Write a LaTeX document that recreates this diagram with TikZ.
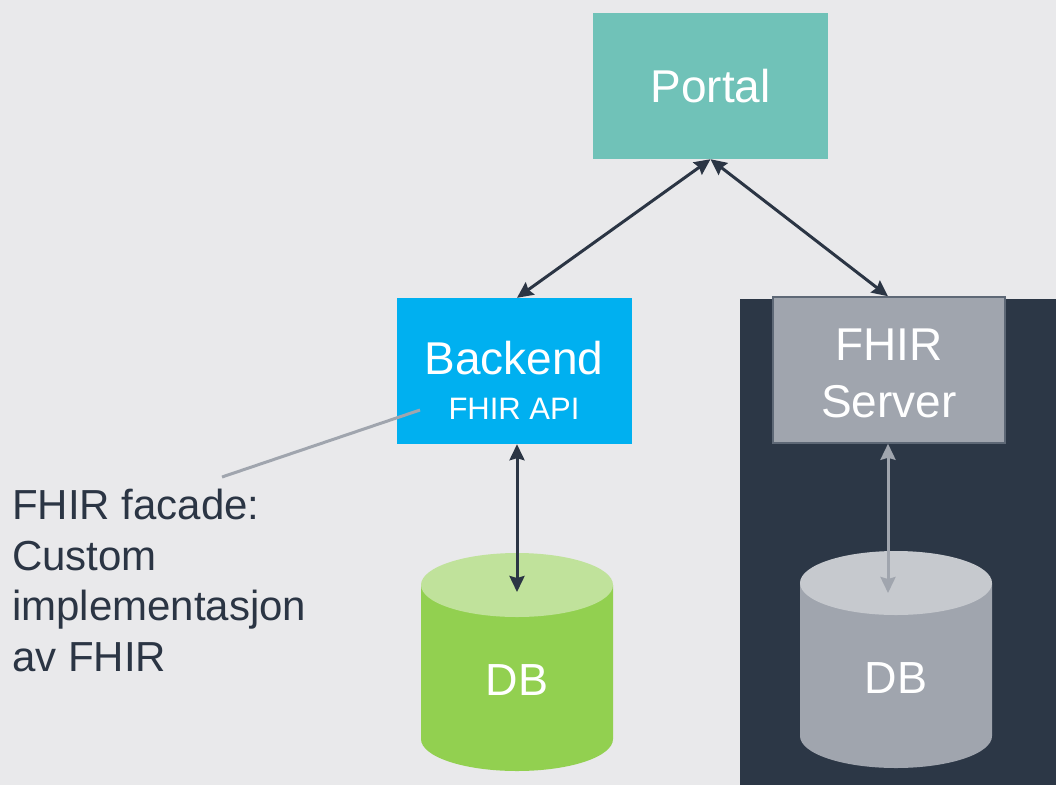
\documentclass[tikz,border=0pt]{standalone}
\usepackage{fontspec}
\setmainfont{Liberation Sans}
\usetikzlibrary{arrows.meta}

\definecolor{bgc}{HTML}{E9E9EB}
\definecolor{panelc}{HTML}{2C3746}
\definecolor{portalc}{HTML}{70C2B8}
\definecolor{backendc}{HTML}{00B0F0}
\definecolor{serverc}{HTML}{A0A5AE}
\definecolor{serveredge}{HTML}{5E6876}
\definecolor{greenbody}{HTML}{92D050}
\definecolor{greentop}{HTML}{C0E29B}
\definecolor{graybody}{HTML}{A0A5AE}
\definecolor{graytop}{HTML}{C6C9CE}
\definecolor{inkc}{HTML}{2B3544}

\tikzset{
  box/.style={rectangle, inner sep=0pt, text=white, align=center,
    font=\fontsize{46}{57}\selectfont},
  link/.style={draw=inkc, line width=3pt,
    {Stealth[length=16pt,width=15pt,inset=2pt]}-{Stealth[length=16pt,width=15pt,inset=2pt]}},
  glink/.style={draw=serverc, line width=3pt,
    {Stealth[length=16pt,width=15pt,inset=2pt]}-{Stealth[length=16pt,width=15pt,inset=2pt]}},
  dblabel/.style={text=white, font=\fontsize{45}{54}\selectfont, inner sep=0pt},
}

\begin{document}
\begin{tikzpicture}[x=1pt,y=-1pt]
  % canvas and dark hosting area
  \fill[bgc] (0,0) rectangle (1056,785);
  \useasboundingbox (0,0) rectangle (1056,785);
  \fill[panelc] (740,299) rectangle (1056,785);

  % boxes
  \node[box, fill=portalc, minimum width=235pt, minimum height=146pt]
    (portal) at (710.5,86) {Portal};
  \node[box, fill=backendc, minimum width=235pt, minimum height=146pt]
    (backend) at (514,371) {};
  \node[box, inner sep=0pt] (backendtxt) at (514,380)
    {Backend\\[-12pt]{\fontsize{31}{36}\selectfont FHIR API}};
  \node[box, fill=serverc, draw=serveredge, line width=1.5pt,
    minimum width=232pt, minimum height=146pt]
    (server) at (889,370) {};
  \node[box] (servertxt) at (889,373) {FHIR\\Server};

  % green database
  \fill[greenbody] (421,585) -- (421,739) arc[start angle=180,end angle=0,x radius=96,y radius=32]
    -- (613,585) -- cycle;
  \fill[greentop] (517,585) ellipse[x radius=96,y radius=32];
  \node[dblabel] (db1) at (517,680) {DB};
  \coordinate (db1top) at (517,592);

  % gray database
  \fill[graybody] (800,583) -- (800,736) arc[start angle=180,end angle=0,x radius=96,y radius=32]
    -- (992,583) -- cycle;
  \fill[graytop] (896,583) ellipse[x radius=96,y radius=32];
  \node[dblabel] (db2) at (896,678) {DB};
  \coordinate (db2top) at (888,593);

  % connectors
  \draw[link] (backend.north -| db1top) -- (portal.south);
  \draw[link] (portal.south) -- (server.north -| db2top);
  \draw[link] (backend.south -| db1top) -- (db1top);
  \draw[glink] (server.south -| db2top) -- (db2top);

  % annotation
  \node[anchor=north west, inner sep=0pt, align=left, text=inkc,
    font=\fontsize{42}{50.5}\selectfont]
    (note) at (12,489) {FHIR facade:\\Custom\\implementasjon\\av FHIR};
  \coordinate (notetip) at (222,477);
  \coordinate (apitip) at (420,410);
  \draw[serverc, line width=3pt] (notetip) -- (apitip);
\end{tikzpicture}
\end{document}
